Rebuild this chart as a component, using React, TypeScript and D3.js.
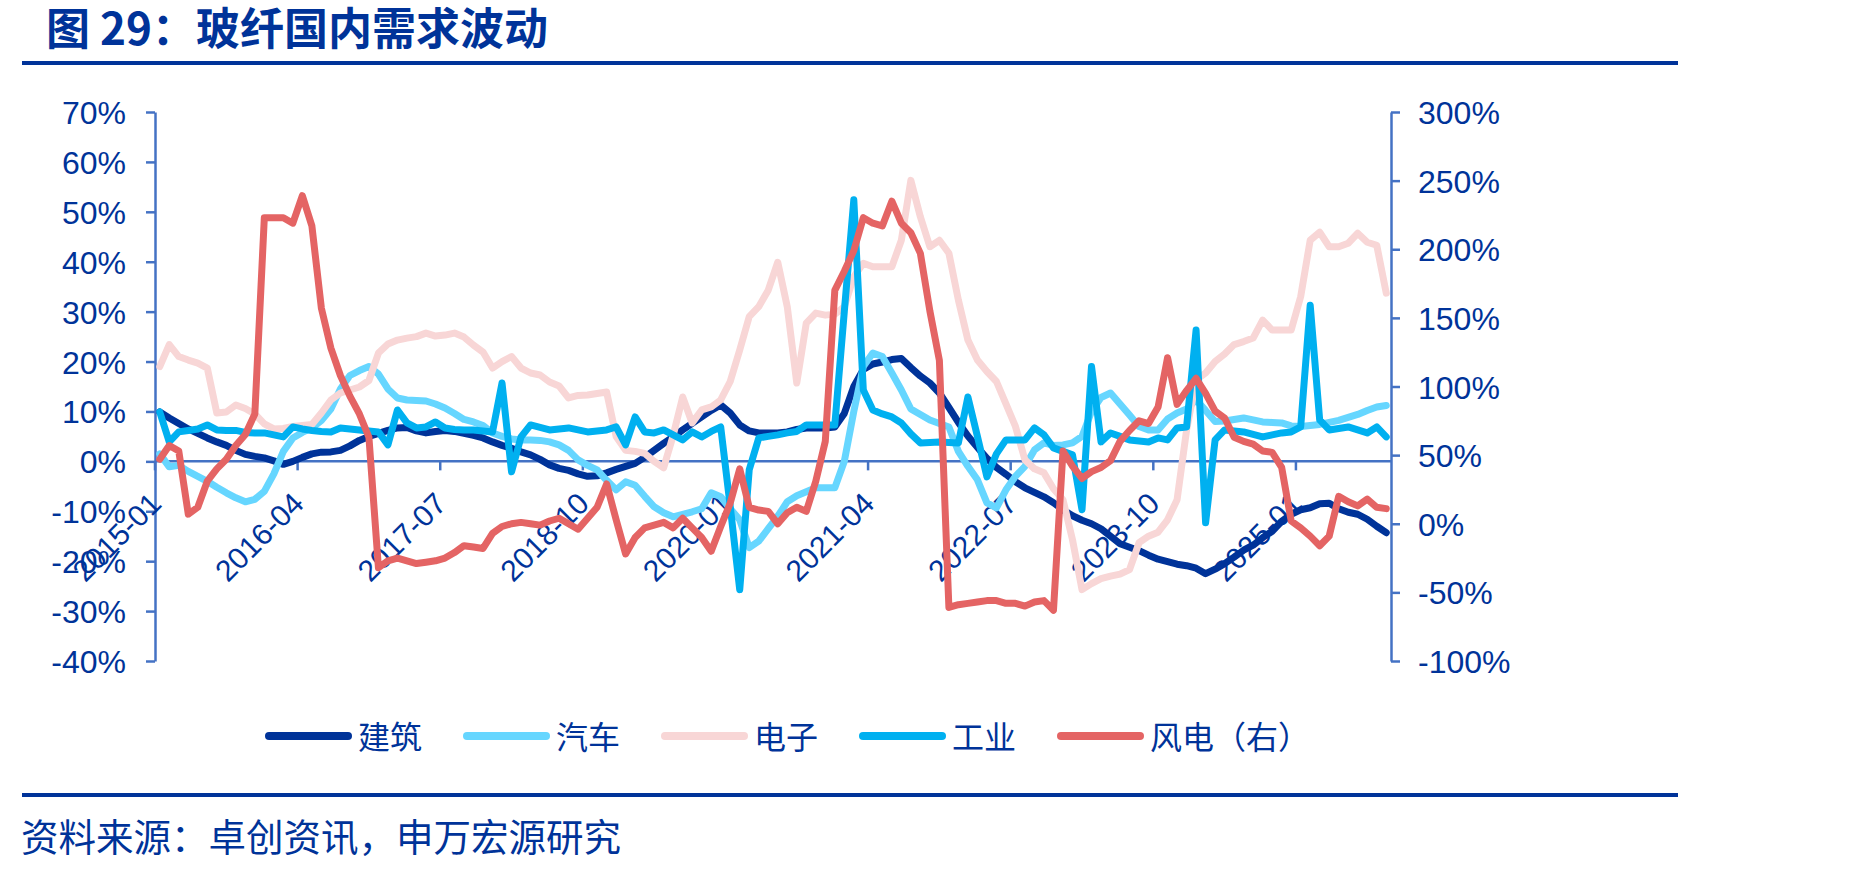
import * as d3 from 'd3';
import React, { useRef, useEffect } from 'react';

// monthly categories 2015-01 .. 2025-10
const months: string[] = [];
for (let y = 2015; y <= 2025; y++) {
  for (let m = 1; m <= 12; m++) {
    if (y === 2025 && m > 10) break;
    months.push(y + '-' + String(m).padStart(2, '0'));
  }
}

const tickMonths = ['2015-01', '2016-04', '2017-07', '2018-10', '2020-01', '2021-04', '2022-07', '2023-10', '2025-01'];
const leftTicks = [70, 60, 50, 40, 30, 20, 10, 0, -10, -20, -30, -40];
const rightTicks = [300, 250, 200, 150, 100, 50, 0, -50, -100];

// 建筑 (left axis, %)
const jianzhu = [
  9.9, 8.7, 7.6, 6.5, 5.6, 4.7, 3.9, 3.2, 2.2, 1.4,
  1.0, 0.7, 0.1, -0.6, 0, 0.8, 1.5, 1.85, 1.9, 2.2,
  3.1, 4.2, 5, 5.6, 6.2, 6.7, 6.8, 6.1, 5.7, 6.0,
  6.2, 6.0, 5.6, 5.2, 4.7, 3.9, 3.2, 2.6, 1.9, 1.3,
  0.4, -0.7, -1.4, -1.8, -2.5, -3.0, -2.9, -2.3, -1.6, -1.0,
  -0.4, 0.8, 2.2, 3.6, 4.9, 6.3, 7.6, 8.9, 10.2, 11.3,
  9.7, 7.3, 6.1, 5.7, 5.7, 5.7, 5.9, 6.4, 6.7, 6.7,
  6.7, 6.9, 9.6, 15, 18.4, 19.5, 19.9, 20.4, 20.6, 18.8,
  17.1, 15.7, 13.7, 10.8, 7.8, 5.1, 2.8, 0.6, -1.2, -2.6,
  -4.1, -5.3, -6.2, -7.1, -8.3, -9.7, -10.9, -11.8, -12.5, -13.5,
  -15, -16.5, -17.2, -17.9, -18.8, -19.6, -20.1, -20.6, -20.9, -21.4,
  -22.5, -21.6, -20.5, -19.2, -17.8, -16.8, -15.3, -14, -12, -10.6,
  -9.7, -9.3, -8.5, -8.4, -9.5, -10.2, -10.6, -11.6, -13, -14.3,
];

// 汽车 (left axis, %)
const qiche = [
  1.5, -1.1, -0.8, -2, -3, -4, -5.2, -6.3, -7.3, -8.1,
  -7.6, -6, -2.5, 2, 4.7, 5.8, 6.7, 8.2, 10.5, 14.5,
  17.2, 18.2, 19, 17.5, 14.5, 12.7, 12.3, 12.2, 12.1, 11.5,
  10.7, 9.6, 8.4, 7.9, 7.2, 5.7, 5, 4.5, 4.3, 4.3,
  4.2, 3.9, 3.3, 2.2, 0.3, -0.8, -1.7, -3.8, -5.7, -4.1,
  -4.8, -7, -9.1, -10.3, -11.1, -10.6, -10.1, -9.5, -6.3, -7.1,
  -9.5, -11.7, -17.3, -16, -13.5, -11, -8.1, -6.9, -6.1, -5.3,
  -5.3, -5.3, 0, 10, 19, 21.7, 21, 17.7, 14.3, 10.5,
  9.4, 8.3, 7.6, 6.9, 2, -1, -3.7, -8.3, -9.3, -5.7,
  -3, -1, 2.3, 3.7, 3.2, 3.3, 3.7, 5, 10, 12.8,
  13.7, 11.5, 9.3, 7, 6.3, 6.3, 8.5, 9.7, 10.5, 12.3,
  10.2, 8, 8.1, 8.4, 8.7, 8.3, 7.9, 7.8, 7.7, 7.1,
  7.0, 7.2, 7.4, 7.8, 8.2, 8.8, 9.4, 10.2, 10.9, 11.2,
];

// 电子 (left axis, %)
const dianzi = [
  19, 23.4, 21, 20.3, 19.7, 18.7, 9.7, 9.9, 11.3, 10.6,
  9.5, 7.5, 6.5, 6.6, 7, 7.2, 7.4, 9.7, 12.3, 13.7,
  14.3, 14.9, 16.2, 21.7, 23.5, 24.3, 24.7, 25, 25.7, 25.1,
  25.3, 25.7, 24.9, 23.3, 21.9, 18.7, 20, 21, 18.7, 17.7,
  17.3, 15.9, 15.1, 12.7, 13.2, 13.3, 13.6, 13.9, 5, 2.2,
  2, 1.6, 0, -1.3, 5.2, 12.9, 7.7, 10.3, 10.9, 12.3,
  16, 22.3, 29, 31, 34.3, 39.9, 31, 15.7, 27.7, 29.7,
  29.3, 29.5, 31, 37, 39.7, 39, 39, 39, 44.3, 56.3,
  49, 43, 44.3, 41.7, 32.3, 24.3, 20.3, 18, 16, 11.5,
  7, 0.3, -1.5, -2.3, -5.5, -7.7, -15.7, -25.7, -24.5, -23.5,
  -23, -22.6, -21.7, -16.3, -15, -14.2, -11.7, -7.7, 6.3, 16.3,
  17.7, 20, 21.5, 23.4, 24, 24.7, 28.3, 26.3, 26.3, 26.3,
  33, 44.3, 45.9, 43, 43, 43.7, 45.7, 43.9, 43.3, 33.7,
];

// 工业 (left axis, %)
const gongye = [
  9.9, 3.9, 5.9, 6.2, 6.5, 7.3, 6.3, 6.2, 6.2, 5.8,
  5.7, 5.7, 5.3, 4.9, 6.9, 6.5, 6.2, 6, 5.9, 6.7,
  6.5, 6.3, 6.1, 5.9, 3.3, 10.3, 7.7, 6.7, 6.9, 7.9,
  6.7, 6.4, 6.3, 6.3, 6.1, 5.9, 15.7, -2.1, 4.9, 7.3,
  6.8, 6.3, 6.5, 6.7, 6.3, 5.9, 6.1, 6.3, 6.9, 3.3,
  8.9, 5.9, 5.7, 6.3, 5.3, 4.3, 5.9, 4.9, 6, 6.9,
  -9, -25.7, -1.7, 4.7, 5, 5.3, 5.7, 6, 7.3, 7.3,
  7.3, 7.3, 30, 52.4, 14.3, 10.3, 9.5, 8.9, 7.7, 5.5,
  3.7, 3.8, 3.9, 3.8, 3.7, 12.9, 5, -3.1, 1.5, 4.3,
  4.3, 4.3, 6.7, 5.3, 2.7, 2, 1.3, -9.7, 19, 3.9,
  5.7, 5, 4.3, 4.1, 3.9, 4.7, 4.3, 6.7, 6.9, 26.3,
  -12.3, 4.3, 6.3, 6.1, 5.9, 5.4, 4.9, 5.3, 5.7, 5.9,
  6.9, 31.3, 8.3, 6.3, 6.6, 6.9, 6.3, 5.7, 6.9, 4.9,
];

// 风电 (right axis, %)
const fengdian = [
  47, 57, 53, 7, 12, 31, 40, 47, 57, 65,
  80, 223, 223, 223, 219, 239, 217, 157, 128, 108,
  93, 80, 63, -32, -27, -25, -27, -29, -28, -27,
  -25, -21, -16, -17, -18, -7, -2, 0, 1, 0,
  -1, 2, 4, 0, -4, 4, 12, 29, 3, -22,
  -10, -3, -1, 1, -3, 4, -3, -10, -20, -2,
  15, 40, 12, 10, 9, 0, 8, 12, 9, 31,
  60, 170, 184, 199, 223, 219, 217, 235, 219, 212,
  197, 155, 119, -61, -59, -58, -57, -56, -56, -58,
  -58, -60, -57, -56, -63, 53, 42, 33, 38, 41,
  46, 60, 68, 75, 73, 85, 121, 87, 97, 106,
  95, 82, 77, 63, 60, 58, 53, 52, 41, 2,
  -3, -9, -16, -9, 20, 16, 13, 18, 12, 11,
];

const series = [
  { name: '建筑', values: jianzhu, color: '#003399', right: false },
  { name: '汽车', values: qiche, color: '#66D6FF', right: false },
  { name: '电子', values: dianzi, color: '#F8D6D6', right: false },
  { name: '工业', values: gongye, color: '#00B0F0', right: false },
  { name: '风电（右）', values: fengdian, color: '#E46464', right: true },
];

const TEXT = '#003399';
const AXIS = '#4472C4';
const LATIN = "'Liberation Sans', Arial, 'Noto Sans CJK SC', sans-serif";
const CJK = "'Noto Sans CJK SC', 'Liberation Sans', sans-serif";

function Chart() {
  const svgRef = useRef(null);

  useEffect(() => {
    const svg = d3.select(svgRef.current);
    svg.selectAll('*').remove();

    const left = 155, right = 1391, top = 112, bottom = 661;

    const x = d3.scaleBand().domain(months).range([left, right]);
    const cx = (m: string) => (x(m) as number) + x.bandwidth() / 2;
    const yL = d3.scaleLinear().domain([-40, 70]).range([bottom, top]);
    const yR = d3.scaleLinear().domain([-100, 300]).range([bottom, top]);

    // left axis
    const gl = svg
      .append('g')
      .attr('transform', 'translate(' + left + ',0)')
      .call(d3.axisLeft(yL).tickValues(leftTicks).tickSize(9).tickSizeOuter(0).tickPadding(20).tickFormat((d) => d + '%'));
    // right axis
    const gr = svg
      .append('g')
      .attr('transform', 'translate(' + right + ',0)')
      .call(d3.axisRight(yR).tickValues(rightTicks).tickSize(9).tickSizeOuter(0).tickPadding(18).tickFormat((d) => d + '%'));

    [gl, gr].forEach((g) => {
      g.select('.domain').attr('stroke', AXIS).attr('stroke-width', 2.5);
      g.selectAll('.tick line').attr('stroke', AXIS).attr('stroke-width', 2.5);
      g.selectAll('.tick text')
        .attr('fill', TEXT)
        .attr('font-family', LATIN)
        .attr('font-size', 32)
        .attr('dy', '0.36em');
    });

    // category axis on the left zero line
    const gx = svg
      .append('g')
      .attr('transform', 'translate(0,' + yL(0) + ')')
      .call(d3.axisBottom(x).tickValues(tickMonths).tickSize(9).tickSizeOuter(0));
    gx.select('.domain').remove();
    gx.selectAll('.tick').attr('transform', (d: any) => 'translate(' + (x(d) as number) + ',0)');
    gx.selectAll('.tick line').attr('stroke', AXIS).attr('stroke-width', 2.5);
    gx.selectAll('.tick text')
      .attr('fill', TEXT)
      .attr('font-family', LATIN)
      .attr('font-size', 30)
      .attr('y', 0)
      .attr('dy', 0)
      .attr('text-anchor', 'end')
      .attr('transform', 'translate(8,44) rotate(-45)');
    gx.append('line')
      .attr('x1', left)
      .attr('x2', right)
      .attr('stroke', AXIS)
      .attr('stroke-width', 2.5);

    // lines
    series.forEach((s) => {
      const y = s.right ? yR : yL;
      svg
        .append('path')
        .datum(s.values)
        .attr('fill', 'none')
        .attr('stroke', s.color)
        .attr('stroke-width', 7)
        .attr('stroke-linejoin', 'round')
        .attr('stroke-linecap', 'round')
        .attr(
          'd',
          d3
            .line<number>()
            .x((d, i) => cx(months[i]))
            .y((d) => y(d))
        );
    });

    // legend
    const lg = svg.append('g');
    series.forEach((s, i) => {
      const x0 = 265 + i * 198;
      lg.append('line')
        .attr('x1', x0 + 4)
        .attr('x2', x0 + 83)
        .attr('y1', 736)
        .attr('y2', 736)
        .attr('stroke', s.color)
        .attr('stroke-width', 8)
        .attr('stroke-linecap', 'round');
      lg.append('text')
        .attr('x', x0 + 93)
        .attr('y', 749)
        .attr('fill', TEXT)
        .attr('font-family', CJK)
        .attr('font-size', 32)
        .text(s.name);
    });
  }, []);

  return (
    <svg
      ref={svgRef}
      width={1849}
      height={871}
      style={{ position: 'absolute', left: 0, top: 0, display: 'block', background: '#fff' }}
    ></svg>
  );
}

export default function App() {
  return (
    <div>
      <svg width={1849} height={871} style={{ position: 'absolute', left: 0, top: 0, display: 'block' }}>
        <rect width={1849} height={871} fill="#fff" />
      </svg>
      <Chart />
      <svg width={1849} height={871} style={{ position: 'absolute', left: 0, top: 0, display: 'block', pointerEvents: 'none' }}>
        <text x={46} y={45} fill={TEXT} fontFamily={CJK} fontWeight="bold" fontSize={44}>
          图 29：玻纤国内需求波动
        </text>
        <line x1={22} x2={1678} y1={63} y2={63} stroke={TEXT} strokeWidth={4} />
        <line x1={22} x2={1678} y1={795} y2={795} stroke={TEXT} strokeWidth={4} />
        <text x={21} y={851} fill={TEXT} fontFamily={CJK} fontSize={37.5}>
          资料来源：卓创资讯，申万宏源研究
        </text>
      </svg>
    </div>
  );
}
